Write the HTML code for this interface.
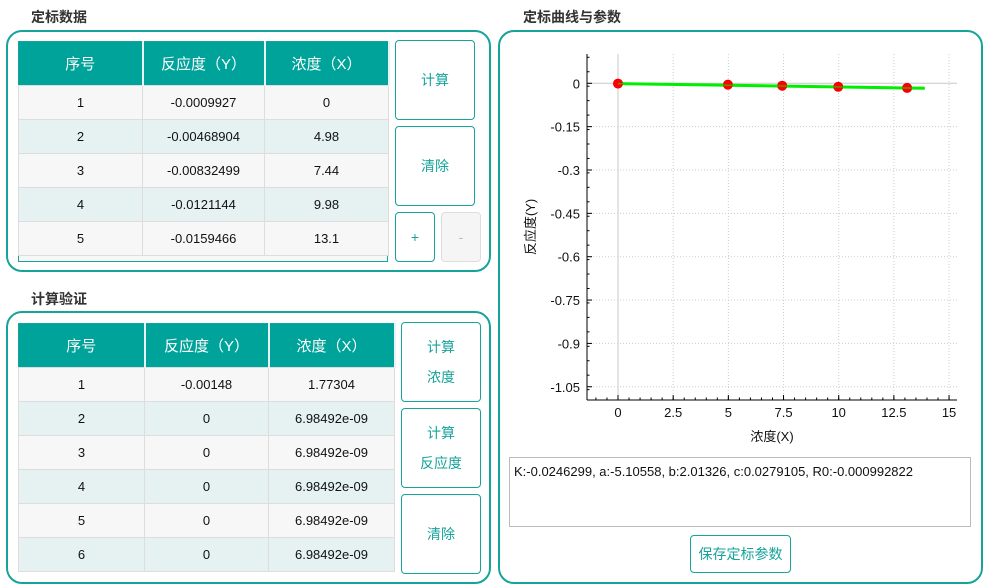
<!DOCTYPE html>
<html><head><meta charset="utf-8"><style>
body{margin:0;width:989px;height:588px;background:#fff;font-family:"Liberation Sans","Noto Sans CJK SC",sans-serif;position:relative;overflow:hidden}
.abs{position:absolute}
.title{font-size:14px;font-weight:bold;color:#333}
.panel{border:2px solid #16a39a;border-radius:16px;box-sizing:border-box}
table{border-collapse:collapse;position:absolute;font-size:13px;table-layout:fixed;border:1px solid #16a39a}
th{background:#00a39a;color:#fff;font-weight:normal;font-size:15px;height:43px;padding:0;border-right:2px solid #e6f3f2}
td{text-align:center;height:33px;padding:0;border:1px solid #ddd;color:#111;line-height:16px}
tr.o td{background:#f7f7f7}tr.e td{background:#e6f2f2}
.btn{position:absolute;border:1px solid #16a39a;border-radius:4px;background:#fff;color:#16a39a;font-size:14px;display:flex;align-items:center;justify-content:center;text-align:center;line-height:30px;box-sizing:border-box}
</style></head><body>
<div class="abs title" style="left:31px;top:7px">定标数据</div>
<div class="abs panel" style="left:6px;top:30px;width:485px;height:242px"></div>
<div class="abs" style="left:18px;top:41px;width:370px;height:221px;border:1px solid #16a39a;box-sizing:border-box;background:#f7f7f7"></div>
<table style="left:18px;top:41px;width:370px">
<colgroup><col style="width:124px"><col style="width:122px"><col style="width:124px"></colgroup>
<tr><th>序号</th><th>反应度（Y）</th><th>浓度（X）</th></tr>
<tr class="o"><td>1</td><td>-0.0009927</td><td>0</td></tr>
<tr class="e"><td>2</td><td>-0.00468904</td><td>4.98</td></tr>
<tr class="o"><td>3</td><td>-0.00832499</td><td>7.44</td></tr>
<tr class="e"><td>4</td><td>-0.0121144</td><td>9.98</td></tr>
<tr class="o"><td>5</td><td>-0.0159466</td><td>13.1</td></tr>
</table>
<div class="btn" style="left:395px;top:40px;width:80px;height:80px">计算</div>
<div class="btn" style="left:395px;top:126px;width:80px;height:80px">清除</div>
<div class="btn" style="left:395px;top:212px;width:40px;height:50px">+</div>
<div class="btn" style="left:441px;top:212px;width:40px;height:50px;border-color:#ddd;background:#f5f5f5;color:#bbb">-</div>

<div class="abs title" style="left:31px;top:289px">计算验证</div>
<div class="abs panel" style="left:6px;top:311px;width:485px;height:273px"></div>
<table style="left:18px;top:323px;width:376px">
<colgroup><col style="width:126px"><col style="width:124px"><col style="width:126px"></colgroup>
<tr><th>序号</th><th>反应度（Y）</th><th>浓度（X）</th></tr>
<tr class="o"><td>1</td><td>-0.00148</td><td>1.77304</td></tr>
<tr class="e"><td>2</td><td>0</td><td>6.98492e-09</td></tr>
<tr class="o"><td>3</td><td>0</td><td>6.98492e-09</td></tr>
<tr class="e"><td>4</td><td>0</td><td>6.98492e-09</td></tr>
<tr class="o"><td>5</td><td>0</td><td>6.98492e-09</td></tr>
<tr class="e"><td>6</td><td>0</td><td>6.98492e-09</td></tr>
</table>
<div class="btn" style="left:401px;top:322px;width:80px;height:80px">计算<br>浓度</div>
<div class="btn" style="left:401px;top:408px;width:80px;height:80px">计算<br>反应度</div>
<div class="btn" style="left:401px;top:494px;width:80px;height:80px">清除</div>

<div class="abs title" style="left:523px;top:7px">定标曲线与参数</div>
<div class="abs panel" style="left:498px;top:30px;width:485px;height:554px"></div>
<svg class="abs" style="left:0;top:0" width="989" height="588" id="chart"></svg>
<div class="abs" style="left:509px;top:457px;width:462px;height:70px;border:1px solid #bbb;box-sizing:border-box;font-size:13px;padding:6px 4px;color:#111">K:-0.0246299, a:-5.10558, b:2.01326, c:0.0279105, R0:-0.000992822</div>
<div class="btn" style="left:690px;top:535px;width:101px;height:38px">保存定标参数</div>
<script>
const xs=[0,4.98,7.44,9.98,13.1];
const ys=[-0.0009927,-0.00468904,-0.00832499,-0.0121144,-0.0159466];
const fitX=[0,13.9];
const fitY=[-0.001,-0.0172];
const xTicks=[0,2.5,5,7.5,10,12.5,15];
const yTicks=[0,-0.15,-0.3,-0.45,-0.6,-0.75,-0.9,-1.05];
const yLabels=["0","-0.15","-0.3","-0.45","-0.6","-0.75","-0.9","-1.05"];
const L=587,R=957,T=54,B=400;
const X=v=>618+v*22.07, Y=v=>83.3-v*289;
const svg=document.getElementById('chart');
const NS='http://www.w3.org/2000/svg';
function mk(t,a,p){const e=document.createElementNS(NS,t);for(const k in a)e.setAttribute(k,a[k]);(p||svg).appendChild(e);return e;}
xTicks.forEach(v=>{const l=mk('line',{x1:X(v),x2:X(v),y1:T,y2:B,stroke:v===0?'#c8c8c8':'#ccc','stroke-dasharray':v===0?'':'1,2'});
 const t=mk('text',{x:X(v),y:B+17,'text-anchor':'middle','font-size':13,fill:'#111'});t.textContent=v;
 mk('line',{x1:X(v),x2:X(v),y1:B,y2:B-5,stroke:'#000'});});
for(let v=-1;v<=15.3;v+=0.5){mk('line',{x1:X(v),x2:X(v),y1:B,y2:B-2.5,stroke:'#000'});}
yTicks.forEach((v,i)=>{const l=mk('line',{x1:L,x2:R,y1:Y(v),y2:Y(v),stroke:v===0?'#c8c8c8':'#ccc','stroke-dasharray':v===0?'':'1,2'});
 const t=mk('text',{x:L-7,y:Y(v)+5,'text-anchor':'end','font-size':13,fill:'#111'});t.textContent=yLabels[i];
 mk('line',{x1:L,x2:L+5,y1:Y(v),y2:Y(v),stroke:'#000'});});
for(let v=0.09;v>=-1.09;v-=0.05){mk('line',{x1:L,x2:L+2.5,y1:Y(v),y2:Y(v),stroke:'#000'});}
mk('line',{x1:L,x2:L,y1:T,y2:B,stroke:'#000'});
mk('line',{x1:L,x2:R,y1:B,y2:B,stroke:'#000'});
const fl=mk('line',{x1:X(fitX[0]),x2:X(fitX[1]),y1:Y(fitY[0]),y2:Y(fitY[1]),stroke:'#00ee00','stroke-width':3});

xs.forEach((v,i)=>{const c=mk('circle',{cx:X(v),cy:Y(ys[i]),r:4.5,fill:'#f00',stroke:'#e00'});});
mk('line',{x1:X(fitX[0]),x2:X(fitX[1]),y1:Y(fitY[0]),y2:Y(fitY[1]),stroke:'#00ee00','stroke-width':1.5,opacity:0.6});
const xt=mk('text',{x:772,y:441,'text-anchor':'middle','font-size':13,fill:'#111'});xt.textContent='浓度(X)';
const yt=mk('text',{x:0,y:0,'text-anchor':'middle','font-size':13,fill:'#111',transform:'translate(535,227) rotate(-90)'});yt.textContent='反应度(Y)';
</script>
</body></html>
